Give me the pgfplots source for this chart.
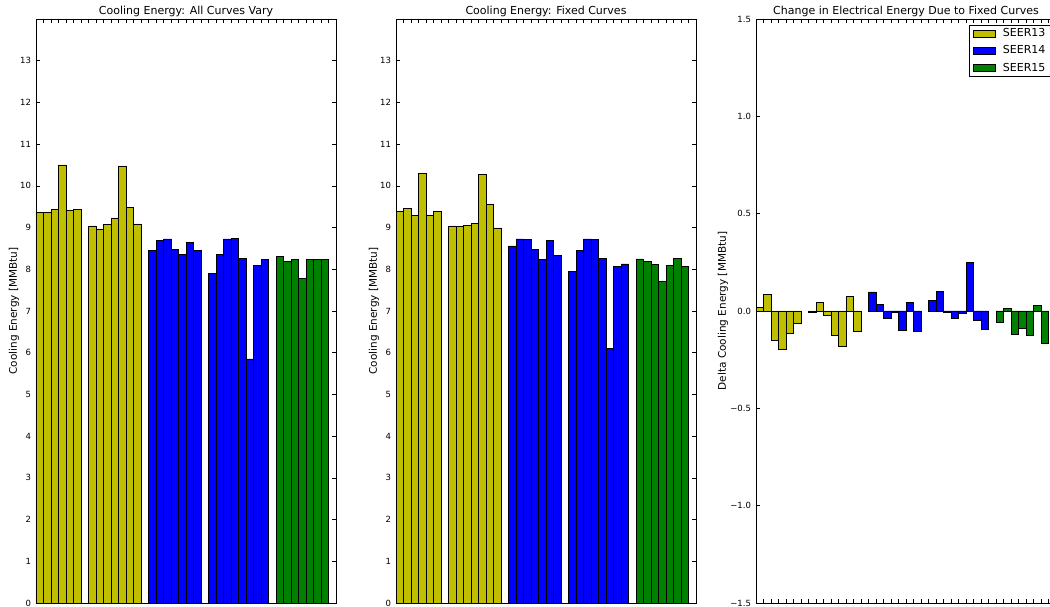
\documentclass[border=0pt]{standalone}
\usepackage{fontspec}
\setmainfont{DejaVu Sans}
\usepackage{pgfplots}
\usepackage{pgfplotstable}
\pgfplotsset{compat=1.18}

\definecolor{c13}{rgb}{0.75,0.75,0}
\definecolor{c14}{rgb}{0,0,1}
\definecolor{c15}{rgb}{0,0.5,0}

% Cooling energy, all curves vary (bar centres on a 40-slot axis)
\pgfplotstableread{
x y
0.5 9.37
1.5 9.37
2.5 9.44
3.5 10.50
4.5 9.41
5.5 9.44
7.5 9.04
8.5 8.97
9.5 9.08
10.5 9.23
11.5 10.48
12.5 9.48
13.5 9.09
}\varyA
\pgfplotstableread{
x y
15.5 8.45
16.5 8.69
17.5 8.73
18.5 8.48
19.5 8.35
20.5 8.65
21.5 8.45
23.5 7.90
24.5 8.35
25.5 8.73
26.5 8.74
27.5 8.27
28.5 5.85
29.5 8.10
30.5 8.24
}\varyB
\pgfplotstableread{
x y
32.5 8.30
33.5 8.18
34.5 8.24
35.5 7.78
36.5 8.23
37.5 8.24
38.5 8.23
}\varyC

% Cooling energy, fixed curves
\pgfplotstableread{
x y
0.5 9.39
1.5 9.45
2.5 9.30
3.5 10.30
4.5 9.30
5.5 9.38
7.5 9.04
8.5 9.02
9.5 9.06
10.5 9.10
11.5 10.28
12.5 9.55
13.5 8.99
}\fixA
\pgfplotstableread{
x y
15.5 8.56
16.5 8.73
17.5 8.71
18.5 8.47
19.5 8.24
20.5 8.70
21.5 8.34
23.5 7.94
24.5 8.46
25.5 8.73
26.5 8.72
27.5 8.27
28.5 6.10
29.5 8.06
30.5 8.13
}\fixB
\pgfplotstableread{
x y
32.5 8.25
33.5 8.19
34.5 8.11
35.5 7.70
36.5 8.10
37.5 8.27
38.5 8.06
}\fixC

% Difference, fixed minus varying
\pgfplotstableread{
x y
0.5 0.019
1.5 0.084
2.5 -0.149
3.5 -0.197
4.5 -0.115
5.5 -0.063
7.5 -0.005
8.5 0.045
9.5 -0.022
10.5 -0.125
11.5 -0.183
12.5 0.075
13.5 -0.104
}\deltaA
\pgfplotstableread{
x y
15.5 0.098
16.5 0.034
17.5 -0.036
18.5 -0.009
19.5 -0.101
20.5 0.046
21.5 -0.104
23.5 0.053
24.5 0.101
25.5 -0.009
26.5 -0.036
27.5 -0.010
28.5 0.248
29.5 -0.048
30.5 -0.096
}\deltaB
\pgfplotstableread{
x y
32.5 -0.058
33.5 0.014
34.5 -0.118
35.5 -0.089
36.5 -0.127
37.5 0.029
38.5 -0.164
}\deltaC

\pgfplotsset{
  panel/.style={
    scale only axis, width=300pt, height=584pt,
    xmin=0, xmax=40,
    xtick={1,...,39}, xticklabels={},
    tick align=inside,
    major tick length=4pt,
    axis line style={black, line width=0.8pt},
    tick style={black, line width=0.5pt},
    /pgf/number format/assume math mode=true,
    tick label style={font=\fontsize{8.5}{10}\selectfont},
    yticklabel style={xshift=-1.5pt},
    every axis title shift=0pt,
    title style={font=\fontsize{11}{13}\selectfont, at={(0.5,1)}, anchor=base, yshift=4.5pt},
    label style={font=\fontsize{10.5}{12}\selectfont},
    clip=true,
  },
  barplot/.style={ybar, bar width=1, draw=black, line width=0.6pt},
}

\begin{document}
\begin{tikzpicture}
\begin{axis}[panel, at={(36pt,4pt)}, anchor=south west,
  ymin=0, ymax=14, ytick={0,...,13},
  title={Cooling Energy: All Curves Vary},
  ylabel={Cooling Energy [MMBtu]},
  ylabel style={at={(rel axis cs:0,0.5)}, anchor=center, yshift=22pt}]
\addplot[barplot, fill=c13] table {\varyA};
\addplot[barplot, fill=c14] table {\varyB};
\addplot[barplot, fill=c15] table {\varyC};
\end{axis}

\begin{axis}[panel, at={(396pt,4pt)}, anchor=south west,
  ymin=0, ymax=14, ytick={0,...,13},
  title={Cooling Energy: Fixed Curves},
  ylabel={Cooling Energy [MMBtu]},
  ylabel style={at={(rel axis cs:0,0.5)}, anchor=center, yshift=22pt}]
\addplot[barplot, fill=c13] table {\fixA};
\addplot[barplot, fill=c14] table {\fixB};
\addplot[barplot, fill=c15] table {\fixC};
\end{axis}

\begin{axis}[panel, at={(756pt,4pt)}, anchor=south west,
  ymin=-1.5, ymax=1.5, ytick={-1.5,-1,...,1.5},
  yticklabels={−1.5,−1.0,−0.5,0.0,0.5,1.0,1.5},
  title={Change in Electrical Energy Due to Fixed Curves},
  ylabel={Delta Cooling Energy [MMBtu]},
  ylabel style={at={(rel axis cs:0,0.5)}, anchor=center, yshift=33pt},
  legend image code/.code={\draw[#1] (0pt,-3.5pt) rectangle (22pt,3.5pt); \path (27pt,0pt);},
  legend style={at={(0.71,0.99)}, anchor=north west, draw=black, line width=0.6pt,
    font=\fontsize{11}{13}\selectfont, row sep=3.5pt, inner xsep=4pt, inner ysep=1.5pt,
    cells={anchor=west}}]
\addplot[barplot, fill=c13, forget plot] table {\deltaA};
\addplot[barplot, fill=c14, forget plot] table {\deltaB};
\addplot[barplot, fill=c15, forget plot] table {\deltaC};
\addlegendimage{fill=c13, draw=black, line width=0.6pt}
\addlegendentry{SEER13}
\addlegendimage{fill=c14, draw=black, line width=0.6pt}
\addlegendentry{SEER14}
\addlegendimage{fill=c15, draw=black, line width=0.6pt}
\addlegendentry{SEER15}
\end{axis}

\pgfresetboundingbox
\useasboundingbox (0,0) rectangle (1050pt,607pt);
\end{tikzpicture}
\end{document}
